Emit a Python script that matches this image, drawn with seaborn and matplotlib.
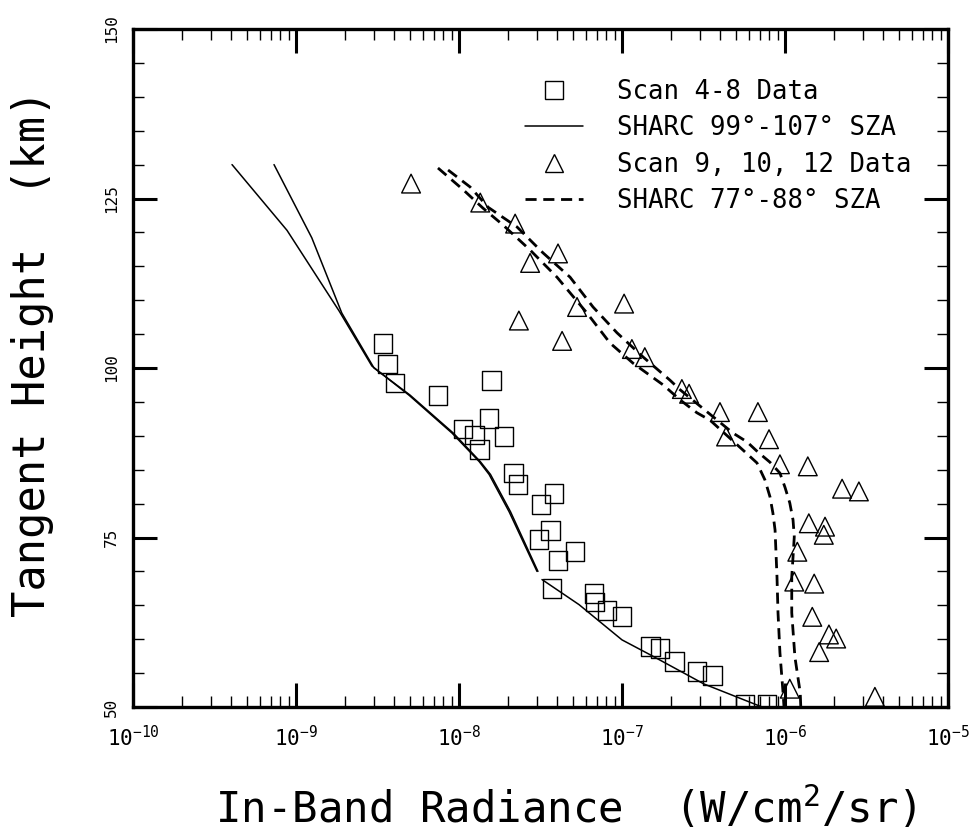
import numpy as np
import pandas as pd
import matplotlib
matplotlib.use("Agg")
import matplotlib.pyplot as plt
import seaborn as sns
from matplotlib.lines import Line2D
from matplotlib.legend_handler import HandlerLine2D
from matplotlib.ticker import FixedLocator

# ---------------- data ----------------
# Scan 4-8 data (squares)
scan48_rad = [3.42e-9, 3.66e-9, 4.05e-9, 7.43e-9, 1.59e-8, 1.06e-8, 1.53e-8, 1.89e-8,
              1.25e-8, 1.33e-8, 2.17e-8, 2.30e-8, 3.83e-8, 3.18e-8, 3.66e-8, 3.10e-8,
              4.05e-8, 5.15e-8, 3.72e-8, 6.73e-8, 6.82e-8, 8.09e-8, 1.00e-7, 1.49e-7,
              1.71e-7, 2.11e-7, 2.88e-7, 3.61e-7, 5.69e-7, 7.76e-7]
scan48_h = [103.6, 100.6, 97.8, 95.9, 98.2, 91.0, 92.5, 89.9,
            90.1, 88.0, 84.5, 82.8, 81.5, 79.9, 76.0, 74.7,
            71.6, 72.9, 67.5, 66.7, 65.5, 64.2, 63.3, 58.9,
            58.6, 56.7, 55.2, 54.7, 50.4, 50.4]

# Scan 9, 10, 12 data (triangles)
scan9_rad = [5.08e-9, 1.35e-8, 2.21e-8, 2.73e-8, 4.05e-8, 2.33e-8, 4.29e-8, 5.30e-8,
             1.03e-7, 1.15e-7, 1.38e-7, 2.33e-7, 2.58e-7, 3.99e-7, 6.82e-7, 4.35e-7,
             7.98e-7, 9.31e-7, 1.38e-6, 2.24e-6, 2.84e-6, 1.40e-6, 1.76e-6, 1.73e-6,
             1.19e-6, 1.14e-6, 1.51e-6, 1.47e-6, 1.86e-6, 2.06e-6, 1.62e-6, 1.07e-6,
             3.56e-6]
scan9_h = [127.2, 124.4, 121.3, 115.5, 116.9, 107.0, 104.0, 109.0,
           109.5, 102.8, 101.6, 96.9, 96.2, 93.5, 93.5, 89.9,
           89.5, 85.8, 85.5, 82.2, 81.8, 77.1, 76.6, 75.4,
           72.9, 68.5, 68.2, 63.3, 60.7, 60.1, 58.1, 52.7,
           51.5]

# SHARC 99-107 deg SZA (solid), upper segments of the two curves
sharc_a_h = [130.0, 120.3, 108.4, 100.3, 96.0, 90.4, 86.2, 84.3, 78.8, 70.0]
sharc_a_rad = [4.05e-10, 8.81e-10, 1.84e-9, 2.92e-9, 4.93e-9, 9.06e-9, 1.33e-8, 1.53e-8, 2.03e-8, 3.01e-8]
sharc_b_h = [130.0, 119.2, 108.1, 100.0, 96.0, 90.4, 86.2, 84.3, 78.8, 70.0]
sharc_b_rad = [7.33e-10, 1.25e-9, 1.91e-9, 3.01e-9, 5.01e-9, 9.23e-9, 1.35e-8, 1.56e-8, 2.07e-8, 3.05e-8]
# lower segment (both curves coincide)
sharc_low_h = [68.8, 65.1, 59.9, 57.7, 53.4, 50.0]
sharc_low_rad = [3.23e-8, 5.45e-8, 1.00e-7, 1.49e-7, 3.18e-7, 7.23e-7]

# SHARC 77-88 deg SZA (dashed), two curves
sharc_c_h = [129.5, 126.3, 123.6, 121.1, 117.4, 113.4, 108.1, 103.7, 100.7, 97.5, 95.3,
             93.4, 92.3, 87.9, 86.0, 83.5, 81.0, 78.6, 76.1, 69.2, 63.9, 58.0, 52.1, 50.0]
sharc_c_rad = [7.43e-9, 1.06e-8, 1.40e-8, 1.86e-8, 2.73e-8, 3.99e-8, 6.10e-8, 8.43e-8,
               1.17e-7, 1.79e-7, 2.27e-7, 2.88e-7, 3.47e-7, 5.52e-7, 6.73e-7, 7.53e-7,
               8.09e-7, 8.43e-7, 8.69e-7, 8.93e-7, 9.06e-7, 9.31e-7, 9.73e-7, 9.86e-7]
sharc_d_h = [129.2, 126.7, 123.7, 120.8, 117.0, 113.4, 109.0, 105.2, 101.6, 98.2, 96.8,
             90.4, 89.1, 87.6, 86.1, 84.5, 82.4, 80.1, 77.6, 75.1, 72.1, 69.2, 63.9,
             57.4, 52.1, 50.0]
sharc_d_rad = [8.57e-9, 1.17e-8, 1.51e-8, 2.27e-8, 3.27e-8, 4.80e-8, 6.64e-8, 9.31e-8,
               1.35e-7, 1.97e-7, 2.27e-7, 4.80e-7, 5.85e-7, 6.82e-7, 8.09e-7, 9.31e-7,
               1.00e-6, 1.07e-6, 1.12e-6, 1.14e-6, 1.12e-6, 1.10e-6, 1.10e-6,
               1.15e-6, 1.24e-6, 1.25e-6]

x_ticks = [1e-10, 1e-9, 1e-8, 1e-7, 1e-6, 1e-5]
x_tick_labels = ["$10^{-10}$", "$10^{-9}$", "$10^{-8}$", "$10^{-7}$", "$10^{-6}$", "$10^{-5}$"]
y_ticks = [50, 75, 100, 125, 150]
y_tick_labels = ["50", "75", "100", "125", "150"]

legend_labels = ["Scan 4-8 Data", "SHARC 99°-107° SZA", "Scan 9, 10, 12 Data", "SHARC 77°-88° SZA"]

# ---------------- plot ----------------
sns.set_theme(style="ticks")
plt.rcParams["font.family"] = ["DejaVu Sans Mono", "DejaVu Sans"]
plt.rcParams["mathtext.default"] = "regular"
for key in ["text.color", "axes.labelcolor", "xtick.color", "ytick.color", "axes.edgecolor"]:
    plt.rcParams[key] = "black"

fig = plt.figure(figsize=(9.73, 8.31), dpi=100)
ax = fig.add_axes([133 / 973, 1 - 707 / 831, 815 / 973, 678 / 831])
ax.set_facecolor("white")

dash = (0, (4, 2.4))
solid_lw = 1.1
for rad, h in [(sharc_a_rad, sharc_a_h), (sharc_b_rad, sharc_b_h), (sharc_low_rad, sharc_low_h)]:
    sns.lineplot(x=rad, y=h, sort=False, estimator=None, color="black", lw=solid_lw, ax=ax)
for rad, h in [(sharc_c_rad, sharc_c_h), (sharc_d_rad, sharc_d_h)]:
    sns.lineplot(x=rad, y=h, sort=False, estimator=None, color="black", lw=2.0,
                 linestyle=dash, ax=ax)

sq = pd.DataFrame({"radiance": scan48_rad, "height": scan48_h})
sns.scatterplot(data=sq, x="radiance", y="height", marker="s", s=13.5 ** 2,
                linewidth=1.0, ax=ax, legend=False)
ax.collections[-1].set_facecolor("none")
ax.collections[-1].set_edgecolor("black")

tr = pd.DataFrame({"radiance": scan9_rad, "height": scan9_h})
sns.scatterplot(data=tr, x="radiance", y="height", marker="^", s=13.5 ** 2,
                linewidth=1.0, ax=ax, legend=False)
ax.collections[-1].set_facecolor("none")
ax.collections[-1].set_edgecolor("black")

ax.set_xscale("log")
ax.set_xlim(1e-10, 1e-5)
ax.set_ylim(50, 150)

ax.xaxis.set_major_locator(FixedLocator(x_ticks))
ax.set_xticklabels(x_tick_labels)
minors = [m * d for d in x_ticks[:-1] for m in range(2, 10)]
ax.xaxis.set_minor_locator(FixedLocator(minors))
ax.set_yticks(y_ticks)
ax.set_yticklabels(y_tick_labels, rotation=90, va="center")
ax.yaxis.set_minor_locator(FixedLocator(np.arange(50, 151, 5)))

ax.tick_params(which="major", direction="in", length=17, width=2.2, top=True, right=True)
ax.tick_params(which="minor", direction="in", length=8, width=1.0, top=True, right=True)
ax.tick_params(axis="x", which="major", labelsize=15, pad=13)
ax.tick_params(axis="y", which="major", labelsize=11.5, pad=10)

for sp in ax.spines.values():
    sp.set_linewidth(2.4)
    sp.set_color("black")

ax.set_xlabel("In-Band Radiance  (W/cm$^2$/sr)", fontsize=30.5)
ax.set_ylabel("Tangent Height  (km)", fontsize=31.5)
ax.xaxis.set_label_coords(0.531, -0.115)
ax.yaxis.set_label_coords(-0.097, 0.522)


class LeftMarkerHandler(HandlerLine2D):
    def get_xdata(self, legend, xdescent, ydescent, width, height, fontsize):
        xdata, _ = super().get_xdata(legend, xdescent, ydescent, width, height, fontsize)
        return xdata, np.array([-xdescent])


h_sq = Line2D([], [], marker="s", ls="none", mfc="none", mec="black", ms=13.5, mew=1.0)
h_solid = Line2D([], [], color="black", lw=solid_lw)
h_tr = Line2D([], [], marker="^", ls="none", mfc="none", mec="black", ms=13.5, mew=1.0)
h_dash = Line2D([], [], color="black", lw=2.0, linestyle=dash)
leg = ax.legend([h_sq, h_solid, h_tr, h_dash], legend_labels, loc="upper left",
                bbox_to_anchor=(0.481, 0.9267), frameon=False, fontsize=18.5,
                handlelength=2.26, handletextpad=1.32, borderaxespad=0, borderpad=0,
                labelspacing=0.41,
                handler_map={h_sq: LeftMarkerHandler(), h_tr: LeftMarkerHandler()})

fig.savefig("out.png", dpi=100, facecolor="white")
